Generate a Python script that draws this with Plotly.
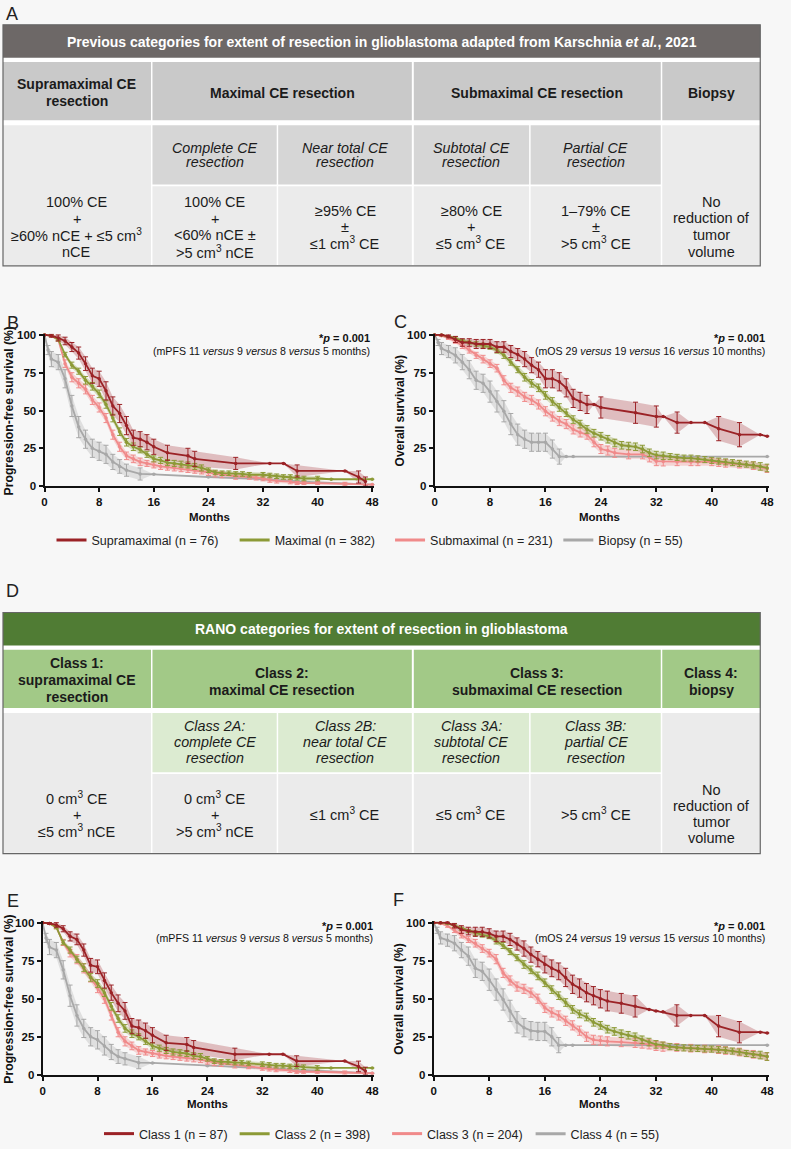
import plotly.graph_objects as go

W, H = 791, 1149
BG = "#f7f7f7"
FONT = "Liberation Sans, Arial, Helvetica, sans-serif"

# ------------------------------------------------------------------ data
MONTH_TICKS = [0, 8, 16, 24, 32, 40, 48]
PCT_TICKS = [0, 25, 50, 75, 100]

# each point: (month, survival %, 95% CI half-width %)
B_SUPRA = [(0,100,0),(1,99.5,1),(2,98,2),(3,96,2.5),(4,92,3),(5,88,4),(6,81,4.5),(7,73,5),(8,71,5),(9,63,6),(10,53,6),
           (11,48,6),(12,40,6),(13,32,5),(14,31,5),(15,29,5),(16,26,5),(18,22,5),(21,20,5),(22,18,5),(28,15,4),(33,15,0),
           (35,15,0),(37,10,4),(44,10,0),(46,6,4),(47,3,3)]
B_MAX = [(0,100,0),(1,99.5,0.5),(2,97,1),(3,87,1.5),(4,80,2),(5,76,2),(6,70,2.5),(7,66,2.5),(8,61,2.5),(9,54,2.5),
         (10,45,2.5),(11,36,2.5),(12,29,2.5),(13,26,2.5),(14,24,2),(15,21,2),(16,18,2),(17,17,2),(18,15.5,2),(19,15,2),
         (20,14.5,2),(21,14,2),(22,13,2),(23,12,2),(24,10.5,1.5),(25,9,1.5),(26,8.5,1.5),(27,8.5,1.5),(28,8,1.5),(29,8,1.5),
         (30,7.5,1.5),(32,7.5,1.5),(33,7,1.5),(34,6.5,1.5),(35,6,1.5),(36,6,1.5),(37,5.5,1.5),(38,5,1.5),(40,5,1.5),
         (42,4.5,0),(48,4.5,0)]
B_SUB = [(0,100,0),(1,99.5,0.5),(2,97,1),(3,81,2.5),(4,72,3),(5,68,3),(6,64,3),(7,57,3),(8,52,3),(9,45,3),(10,34,3),
         (11,26,3),(12,20,2.5),(13,18,2.5),(14,16,2.5),(15,15,2),(16,14,2),(17,13,2),(18,12.5,2),(19,12,2),(20,11.5,2),
         (21,11,2),(22,10.5,2),(23,10,2),(24,9,2),(25,8,2),(26,7.5,2),(28,6.5,2),(30,6,1.5),(31,5.5,1.5),(32,5,1.5),
         (33,4,1.5),(34,3.5,1.5),(36,3,1.5),(37,2,1),(38,2,1),(40,2,1),(44,1.5,1),(48,1,0)]
B_BIO = [(0,100,0),(0.5,90,3),(1,84,5),(2,82,5),(3,71,6),(4,53,7),(5,39,7),(6,31,6),(7,25,6),(8,23,6),(9,21,6),
         (10,16,5),(11,13,4.5),(12,10.5,4),(14,8,4),(16,7.8,0),(24,6,0),(32,4.5,0),(40,2.5,0),(48,1,0)]

C_SUPRA = [(0,100,0),(1,100,0),(2,99,1),(3,97,2),(4,95,2.5),(5,95,2.5),(6,94,3),(7,94,3),(8,94,3),(9,92,3.5),(10,92,3.5),
           (11,89,4),(12,87,4),(13,84,5),(14,80,5),(15,77,5),(16,71,6),(17,71,6),(18,69,6),(19,65,6),(20,58,6),(21,56,6),
           (22,54,6),(23,54,0),(24,52,7),(29,48.5,7),(32,46,7),(33,46,0),(35,42,7),(37,42,0),(39,42,0),(41,38,8),
           (44,34,8),(47,34,0),(48,33,0)]
C_MAX = [(0,100,0),(1,100,0),(2,99,0.5),(3,98,1),(4,96,1),(5,95,1),(6,94,1.5),(7,93,1.5),(8,92,1.5),(9,90,2),(10,86.5,2),
         (11,82,2),(12,77,2),(13,72,2.5),(14,68,2.5),(15,65,2.5),(16,60,2.5),(17,56,2.5),(18,52,2.5),(19,48.5,2.5),
         (20,44,2.5),(21,41,2.5),(22,37.5,2.5),(23,35,2.5),(24,33,2.5),(25,31,2.5),(26,28.5,2.5),(27,27,2.5),(28,26.5,2.5),
         (29,26,2.5),(30,24.5,2.5),(31,22,2.5),(32,20.5,2.5),(33,20,2.5),(34,19.5,2),(35,19,2),(36,18.5,2),(37,18.5,2),
         (38,18,2),(39,17.5,2),(40,17,2),(41,16.5,2),(42,16,2),(43,15.5,2),(44,15,2),(45,14.5,2),(46,14,2),(47,13,2.5),
         (48,12,2.5)]
C_SUB = [(0,100,0),(1,99.5,0.5),(2,98,1),(3,96,1.5),(4,93,2),(5,90,2),(6,86.5,2),(7,84,2.5),(8,81,2.5),(9,78,2.5),
         (10,70,3),(11,65,3),(12,62.5,3),(13,59,3),(14,57,3),(15,54,3),(16,49.5,3),(17,46,3),(18,43,3),(19,41,3),
         (20,37.5,3),(21,35.5,3),(22,34,3),(23,29,3),(24,24.5,3),(25,23.5,3),(26,22,3),(28,21,3),(30,21,3),(31,19,3),
         (32,16.5,3),(33,16.3,3),(35,16,2.5),(37,16,2.5),(38,16,2.5),(40,16,2.5),(41,15.5,2.5),(42,15,2.5),(44,14.5,2.5),
         (46,13.5,2.5),(48,11.5,2.5)]
C_BIO = [(0,100,0),(0.5,95,2),(1,91,4),(2,89,4),(3,86.5,5),(4,82,5),(5,77,6),(6,70,6),(7,68,6),(8,62.5,7),(9,56,7),
         (10,49.5,7),(11,41,7),(12,34,7),(13,31,6),(14,29,6),(15,29,6),(16,29,6),(17,24.5,6),(18,19.5,5),(19,19.5,0),
         (20,19.5,0),(48,19.5,0)]

E_C1 = [(0,100,0),(1,99.5,0.5),(2,98.5,1.5),(3,96,2),(4,91,3),(5,89,3.5),(6,82,4),(7,72,4.5),(8,71,4.5),(9,62,5),
        (10,54,5),(11,47,5.5),(12,42,5.5),(13,32,5),(14,31,5),(15,29,5),(16,26,5),(18,21,5),(21,20,4.5),(22,18,4.5),
        (28,13.5,4),(33,13.5,0),(35,13.5,0),(37,9,3.5),(44,9,0),(46,5.5,3.5),(47,2.5,2.5)]
E_C2 = [(0,100,0),(1,99.5,0.5),(2,97,1),(3,87,1.5),(4,82,2),(5,76,2),(6,70.5,2.5),(7,64,2.5),(8,60,2.5),(9,54,2.5),
        (10,45,2.5),(11,37,2.5),(12,30.5,2.5),(13,27,2.5),(14,25,2),(15,22,2),(16,19,2),(17,17.5,2),(18,16,2),(19,15,2),
        (20,14.5,2),(21,14,2),(22,12.5,2),(23,12,2),(24,10.5,1.5),(25,9,1.5),(26,8.5,1.5),(27,8.5,1.5),(28,8,1.5),
        (29,8,1.5),(30,7.5,1.5),(32,7,1.5),(33,6.5,1.5),(34,6,1.5),(35,6,1.5),(36,5.5,1.5),(37,5.5,1.5),(38,5,1.5),
        (40,4.5,1.5),(42,4.5,0),(48,4.5,0)]
E_C3 = [(0,100,0),(1,99.5,0.5),(2,97,1),(3,87,2),(4,80,2.5),(5,76,3),(6,70,3),(7,64,3),(8,57,3),(9,50,3),(10,39,3),
        (11,28,3),(12,22,3),(13,19,2.5),(14,16,2.5),(15,15,2),(16,14,2),(17,13,2),(18,12.5,2),(19,12,2),(20,11.5,2),
        (21,11,2),(22,10.5,2),(23,10,2),(24,9,2),(25,8,2),(26,7.5,2),(28,6.5,2),(30,5.5,1.5),(32,4.5,1.5),(33,4,1.5),
        (34,3.5,1.5),(36,3,1.5),(37,2,1),(38,2,1),(40,2,1),(44,1.5,1),(48,1,0)]
E_C4 = [(0,100,0),(0.5,90,3),(1,84,5),(2,82,5),(3,69,6),(4,52,7),(5,39,7),(6,30.5,6),(7,25,6),(8,23,6),(9,19,6),
        (10,15,5),(11,12,4.5),(12,10.5,4),(14,8,4),(16,7.8,0),(24,6,0),(32,4.5,0),(40,2.5,0),(48,1,0)]

F_C1 = [(0,100,0),(1,100,0),(2,100,0.5),(3,98,1.5),(4,95.5,2.5),(5,94.5,2.5),(6,94,3),(7,94,3),(8,93,3),(9,91,3.5),
        (10,91,3.5),(11,89,4),(12,86,4),(13,83,5),(14,79,5),(15,76,5),(16,72.5,5.5),(17,70,5.5),(18,68,5.5),(19,64,6),
        (20,59.5,6),(21,57,6),(22,54,6),(23,52,6),(24,50,6),(25,48.5,6.5),(27,47,6.5),(29,45,7),(31,43,0),(32,42,0),
        (33,41.5,0),(35,39,7),(37,39,0),(39,39,0),(41,32,7),(44,28,7),(47,28,0),(48,27.5,0)]
F_C2 = [(0,100,0),(1,100,0),(2,99.5,0.5),(3,98,1),(4,96,1),(5,94.5,1),(6,93,1.5),(7,92,1.5),(8,91,1.5),(9,88,2),
        (10,85,2),(11,81,2),(12,77,2),(13,72.5,2.5),(14,69,2.5),(15,65,2.5),(16,60.5,2.5),(17,56,2.5),(18,52,2.5),
        (19,47.5,2.5),(20,43,2.5),(21,40,2.5),(22,38,2.5),(23,34.5,2.5),(24,32.5,2.5),(25,30,2.5),(26,28.5,2.5),
        (27,27,2.5),(28,26,2.5),(29,25,2.5),(30,23,2.5),(31,21.5,2.5),(32,20,2.5),(33,19.5,2),(34,18.5,2),(35,18,2),
        (36,17.7,2),(37,17.5,2),(38,17.3,2),(39,17,2),(40,16.9,2),(41,16.5,2),(42,16.2,2),(43,15.6,2),(44,15,2),
        (45,14,2),(46,13.4,2),(47,13,2.5),(48,12,2.5)]
F_C3 = [(0,100,0),(1,99.5,0.5),(2,98,1),(3,95,1.5),(4,92,2),(5,89,2),(6,86.5,2.5),(7,83,2.5),(8,80,2.5),(9,76,3),
        (10,67,3),(11,62,3),(12,58,3),(13,56.5,3),(14,54,3),(15,50,3),(16,44,3),(17,41,3),(18,39,3),(19,35.5,3),
        (20,32.5,3),(21,29,3),(22,25,3),(23,23,3),(24,22.5,3),(25,22,3),(27,21.5,3),(29,21,3),(30,20.5,3),(31,20,3),
        (32,19,3),(33,18.5,3),(35,18,2.5),(37,17.5,2.5),(39,17,2.5),(41,16.5,2.5),(42,16,2.5),(44,15,2.5),
        (46,13.5,2.5),(48,12,2.5)]
F_C4 = [(0,100,0),(0.5,95,2),(1,90,4),(2,88.5,4),(3,86.5,5),(4,82,5),(5,78,6),(6,70,6),(7,68,6),(8,62.5,7),(9,56,7),
        (10,49.5,7),(11,42,7),(12,34.5,7),(13,31,6),(14,29,6),(15,28.5,6),(16,28.5,6),(17,25,6),(18,19.5,5),
        (19,19.5,0),(20,19.5,0),(48,19.5,0)]

GROUPS_PREV = ["Supramaximal (n = 76)", "Maximal (n = 382)", "Submaximal (n = 231)", "Biopsy (n = 55)"]
GROUPS_RANO = ["Class 1 (n = 87)", "Class 2 (n = 398)", "Class 3 (n = 204)", "Class 4 (n = 55)"]

P_TEXT = "<b>*<i>p</i> = 0.001</b>"
MEDIAN_B = "(mPFS 11 <i>versus</i> 9 <i>versus</i> 8 <i>versus</i> 5 months)"
MEDIAN_C = "(mOS 29 <i>versus</i> 19 <i>versus</i> 16 <i>versus</i> 10 months)"
MEDIAN_E = "(mPFS 11 <i>versus</i> 9 <i>versus</i> 8 <i>versus</i> 5 months)"
MEDIAN_F = "(mOS 24 <i>versus</i> 19 <i>versus</i> 15 <i>versus</i> 10 months)"

A_TITLE = "Previous categories for extent of resection in glioblastoma adapted from Karschnia <i>et al.</i>, 2021"
A_GROUPS = [["Supramaximal CE", "resection"], ["Maximal CE resection"], ["Submaximal CE resection"], ["Biopsy"]]
A_SUB = [["Complete CE", "resection"], ["Near total CE", "resection"], ["Subtotal CE", "resection"],
         ["Partial CE", "resection"]]
A_CRIT = [["100% CE", "+", "≥60% nCE + ≤5 cm<sup>3</sup>", "nCE"],
          ["100% CE", "+", "&lt;60% nCE ±", "&gt;5 cm<sup>3</sup> nCE"],
          ["≥95% CE", "±", "≤1 cm<sup>3</sup> CE"],
          ["≥80% CE", "+", "≤5 cm<sup>3</sup> CE"],
          ["1–79% CE", "±", "&gt;5 cm<sup>3</sup> CE"],
          ["No", "reduction of", "tumor", "volume"]]

D_TITLE = "RANO categories for extent of resection in glioblastoma"
D_GROUPS = [["Class 1:", "supramaximal CE", "resection"], ["Class 2:", "maximal CE resection"],
            ["Class 3:", "submaximal CE resection"], ["Class 4:", "biopsy"]]
D_SUB = [["Class 2A:", "complete CE", "resection"], ["Class 2B:", "near total CE", "resection"],
         ["Class 3A:", "subtotal CE", "resection"], ["Class 3B:", "partial CE", "resection"]]
D_CRIT = [["0 cm<sup>3</sup> CE", "+", "≤5 cm<sup>3</sup> nCE"],
          ["0 cm<sup>3</sup> CE", "+", "&gt;5 cm<sup>3</sup> nCE"],
          ["≤1 cm<sup>3</sup> CE"],
          ["≤5 cm<sup>3</sup> CE"],
          ["&gt;5 cm<sup>3</sup> CE"],
          ["No", "reduction of", "tumor", "volume"]]

# ------------------------------------------------------------------ style
COLORS = ["#9b2226", "#8c9a36", "#f08a8a", "#a8a8a8"]
BANDS = ["rgba(160,40,45,0.28)", "rgba(140,155,55,0.30)", "rgba(240,130,130,0.30)", "rgba(170,170,170,0.30)"]


def px(x):
    return x / W


def py(y):
    return 1 - y / H


fig = go.Figure()
annotations = []
shapes = []


def text(x, y, s, size=14.5, color="#1b1b1b", bold=False, italic=False, anchor="center", angle=0):
    if italic:
        s = "<i>" + s + "</i>"
    if bold:
        s = "<b>" + s + "</b>"
    annotations.append(dict(x=px(x), y=py(y), xref="paper", yref="paper", text=s, showarrow=False,
                            xanchor=anchor, yanchor="middle", textangle=angle,
                            font=dict(family=FONT, size=size, color=color)))


def lines(x, cy, items, sp, **kw):
    n = len(items)
    for i, s in enumerate(items):
        text(x, cy + (i - (n - 1) / 2) * sp, s, **kw)


def rect(x0, y0, x1, y1, fill, line=None, lw=0):
    shapes.append(dict(type="rect", xref="paper", yref="paper", x0=px(x0), x1=px(x1), y0=py(y1), y1=py(y0),
                       fillcolor=fill, line=dict(color=line or "rgba(0,0,0,0)", width=lw), layer="below"))


# ------------------------------------------------------------------ tables
COLS = [(0, 149.5), (151, 276.5), (278, 413), (415, 531.5), (533, 664.5), (666, 765)]
COLC = [(a + b) / 2 for a, b in COLS]
MERGED = [(0, 149.5), (151, 413), (415, 664.5), (666, 765)]
MERGC = [(a + b) / 2 for a, b in MERGED]


def table(off, title, groups, subs, crit, c_head, c_grp, c_sub, c_dat, kind):
    rect(0, 20 + off, 765, 264 + off, "#ffffff")
    rect(0, 20 + off, 765, 53.3 + off, c_head)
    for a, b in MERGED:
        rect(a, 57.7 + off, b, 116.7 + off, c_grp)
    rect(0, 121.7 + off, 149.5, 263.3 + off, c_dat)
    rect(666, 121.7 + off, 765, 263.3 + off, c_dat)
    for a, b in COLS[1:5]:
        rect(a, 121.7 + off, b, 181.7 + off, c_sub)
        rect(a, 183.5 + off, b, 263.3 + off, c_dat)
    rect(0, 20 + off, 765, 264 + off, "rgba(0,0,0,0)", "#666666", 1.2)
    text(382.5, 37 + off, title, size=14, color="#ffffff", bold=True)
    for i, g in enumerate(groups):
        if kind == "A":
            sp = 17.2
        else:
            sp = 17.2 if len(g) == 3 else 16.7
        lines(MERGC[i], 88.7 + off + (1 if (kind == "D" and len(g) == 2) else 0), g, sp, size=14, bold=True)
    for i, s in enumerate(subs):
        lines(COLC[i + 1], (151.7 if kind == "A" else 151.2) + off, s, 14.7 if kind == "A" else 16.2,
              size=14.3, italic=True)
    for i, c in enumerate(crit):
        if len(c) == 4:
            sp = 16.7 if i < 5 else 17.0
            cy = 224.5 if kind == "A" else 224.2
            if kind == "D":
                sp = 16.1
        elif len(c) == 3:
            sp = 16.2 if kind == "A" else 16.5
            cy = 224.5
        else:
            sp = 0
            cy = 223.5
        lines(COLC[i], cy + off, c, sp, size=14.5)


table(0, A_TITLE, A_GROUPS, A_SUB, A_CRIT, "#6d6867", "#c9c9c9", "#d6d6d6", "#ebebeb", "A")
table(595, D_TITLE, D_GROUPS, D_SUB, D_CRIT, "#507c34", "#a2c987", "#dcebd1", "#ebebeb", "D")

# ------------------------------------------------------------------ survival panels
PANELS = [
    dict(curves=[B_SUPRA, B_MAX, B_SUB, B_BIO], x0=42, x48=373, yb=487, yt=334, ylab="Progression-free survival (%)",
         ylx=7, mx=209, my=518.5, pr=373, median=MEDIAN_B),
    dict(curves=[C_SUPRA, C_MAX, C_SUB, C_BIO], x0=436, x48=772, yb=487, yt=334, ylab="Overall survival (%)",
         ylx=402, mx=603, my=518.5, pr=772, median=MEDIAN_C),
    dict(curves=[E_C1, E_C2, E_C3, E_C4], x0=40, x48=373, yb=1083, yt=929, ylab="Progression-free survival (%)",
         ylx=6, mx=207, my=1112.5, pr=376, median=MEDIAN_E),
    dict(curves=[F_C1, F_C2, F_C3, F_C4], x0=435, x48=772, yb=1083, yt=929, ylab="Overall survival (%)",
         ylx=400, mx=603, my=1112.5, pr=772, median=MEDIAN_F),
]
XMAX, YMAX = 48.3, 100.8

layout_axes = {}
for k, p in enumerate(PANELS):
    sfx = "" if k == 0 else str(k + 1)
    xr = p["x0"] + (p["x48"] - p["x0"]) * XMAX / 48
    ytop = p["yb"] - (p["yb"] - p["yt"]) * YMAX / 100
    common = dict(showline=True, linewidth=2, linecolor="#111", ticks="outside", ticklen=4, tickwidth=2,
                  tickcolor="#111", showgrid=False, zeroline=False, fixedrange=True,
                  tickfont=dict(family=FONT, size=11.5, color="#111", weight="bold"))
    layout_axes["xaxis" + sfx] = dict(domain=[px(p["x0"]), px(xr)], range=[0, XMAX], tickvals=MONTH_TICKS,
                                      anchor="y" + sfx, **common)
    layout_axes["yaxis" + sfx] = dict(domain=[py(p["yb"]), py(ytop)], range=[0, YMAX], tickvals=PCT_TICKS,
                                      anchor="x" + sfx, **common)
    xa, ya = "x" + sfx, "y" + sfx
    # confidence bands
    for ci in [3, 2, 1, 0]:
        pts = p["curves"][ci]
        xs = [q[0] for q in pts]
        up = [min(q[1] + q[2], 100) for q in pts]
        lo = [max(q[1] - q[2], 0) for q in pts]
        fig.add_trace(go.Scatter(x=xs + xs[::-1], y=up + lo[::-1], fill="toself", fillcolor=BANDS[ci],
                                 line=dict(width=0), mode="lines", hoverinfo="skip", showlegend=False,
                                 xaxis=xa, yaxis=ya))
    # curves
    for ci in [3, 2, 1, 0]:
        pts = p["curves"][ci]
        fig.add_trace(go.Scatter(x=[q[0] for q in pts], y=[q[1] for q in pts], mode="lines+markers",
                                 line=dict(color=COLORS[ci], width=1.8), marker=dict(color=COLORS[ci], size=3.5),
                                 error_y=dict(type="data", array=[q[2] for q in pts], color=COLORS[ci],
                                              thickness=1, width=2.5),
                                 showlegend=False, xaxis=xa, yaxis=ya, cliponaxis=False))
    text(p["ylx"], (p["yb"] + p["yt"]) / 2, p["ylab"], size=12.2 if k in (0, 2) else 12, bold=True, color="#111",
         angle=-90)
    text(p["mx"], p["my"], "Months", size=11.5, bold=True, color="#111")
    text(p["pr"], p["yt"] + 3, P_TEXT, size=11, color="#111", anchor="right")
    text(p["pr"], p["yt"] + 16, p["median"], size=10.6, color="#111", anchor="right")

# panel letters
for lab, x, y in [("A", 1, 9), ("B", 2, 322), ("C", 393, 321), ("D", 1, 593), ("E", 2, 907), ("F", 392, 906)]:
    text(x, y, lab, size=18, color="#222", anchor="left")

# ------------------------------------------------------------------ legends
LEG_TEXT_X = [[89, 274, 431, 601], [137, 274, 428, 573]]
LEG_Y = [542, 1143]
leg_layout = {}
n = 0
for r, names in enumerate([GROUPS_PREV, GROUPS_RANO]):
    for i, name in enumerate(names):
        n += 1
        lid = "legend" if n == 1 else "legend" + str(n)
        fig.add_trace(go.Scatter(x=[None], y=[None], mode="lines", line=dict(color=COLORS[i], width=3),
                                 name=name, legend=lid, showlegend=True, hoverinfo="skip"))
        leg_layout[lid] = dict(x=px(LEG_TEXT_X[r][i] - 40), y=py(LEG_Y[r]), xanchor="left", yanchor="middle",
                               orientation="h", bgcolor="rgba(0,0,0,0)", borderwidth=0,
                               font=dict(family=FONT, size=12.5, color="#222"), itemwidth=30)

fig.update_layout(width=W, height=H, margin=dict(l=0, r=0, t=0, b=0), paper_bgcolor=BG, plot_bgcolor="rgba(0,0,0,0)",
                  annotations=annotations, shapes=shapes, showlegend=True, **layout_axes, **leg_layout)
fig.write_html("out.html", config={"displayModeBar": False},
               post_script="document.body.style.margin='0px';document.body.style.background='" + BG + "';")
